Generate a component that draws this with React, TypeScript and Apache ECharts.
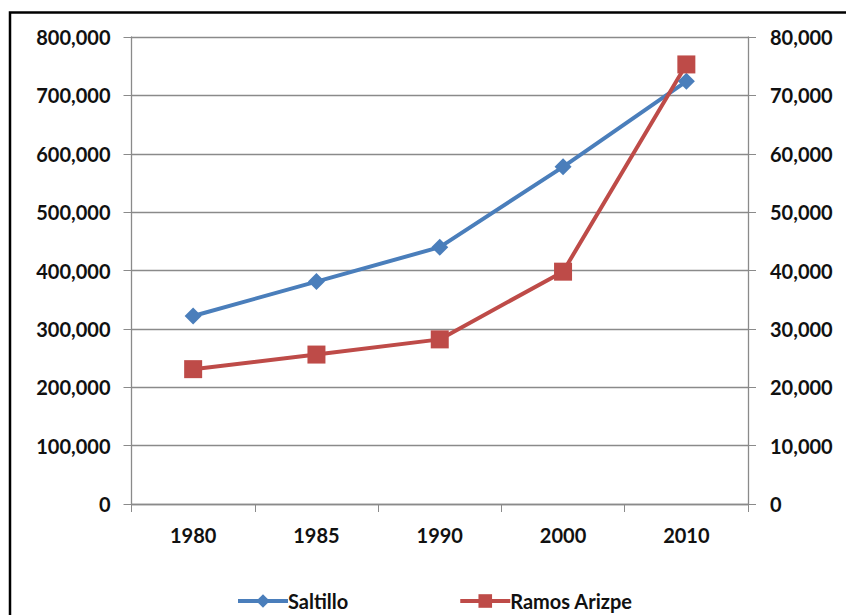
import React, { useEffect, useRef } from "react";
import * as echarts from "echarts";

const years = ["1980", "1985", "1990", "2000", "2010"];
const saltillo = [322000, 381000, 440000, 577600, 724000];
const ramosArizpe = [23100, 25600, 28200, 39800, 75300];
const leftTicks = { min: 0, max: 800000, interval: 100000 };
const rightTicks = { min: 0, max: 80000, interval: 10000 };

const FONT = "Lato";
const TEXT = "#111111";
const GRID = "#8a8a8a";

export default function App() {
  const ref = useRef<HTMLDivElement>(null);
  useEffect(() => {
    if (!ref.current) return;
    const chart = echarts.init(ref.current, undefined, { renderer: "svg" });
    const fmt = (v: number) => v.toLocaleString("en-US");
    const labelBase = { color: TEXT, fontSize: 20, fontFamily: FONT, fontWeight: "bold" as const };
    chart.setOption({
      animation: false,
      backgroundColor: "#ffffff",
      textStyle: { fontFamily: FONT },
      graphic: [
        {
          type: "rect",
          shape: { x: 10, y: 12.5, width: 900, height: 700 },
          style: { fill: "none", stroke: "#000", lineWidth: 2.5 },
          silent: true,
        },
      ],
      grid: { left: 131.5, right: 98, top: 37, bottom: 111 },
      legend: {
        left: 231,
        top: 586,
        itemWidth: 50,
        itemHeight: 17,
        itemGap: 110,
        lineStyle: { width: 4 },
        textStyle: { ...labelBase, fontSize: 20, padding: [0, 0, 0, -5] },
        data: ["Saltillo", "Ramos Arizpe"],
      },
      xAxis: {
        type: "category",
        data: years,
        boundaryGap: true,
        axisLine: { lineStyle: { color: GRID, width: 1.3 } },
        axisTick: { show: true, length: 8, inside: false, lineStyle: { color: GRID } },
        axisLabel: { ...labelBase, margin: 21 },
        splitLine: { show: false },
      },
      yAxis: [
        {
          type: "value",
          min: leftTicks.min,
          max: leftTicks.max,
          interval: leftTicks.interval,
          axisLine: { show: true, lineStyle: { color: GRID, width: 1.3 } },
          axisTick: { show: true, length: 8, lineStyle: { color: GRID } },
          axisLabel: { ...labelBase, margin: 21, formatter: fmt },
          splitLine: { show: true, lineStyle: { color: GRID, width: 1.3 } },
        },
        {
          type: "value",
          position: "right",
          min: rightTicks.min,
          max: rightTicks.max,
          interval: rightTicks.interval,
          axisLine: { show: true, lineStyle: { color: GRID, width: 1.3 } },
          axisTick: { show: true, length: 8, lineStyle: { color: GRID } },
          axisLabel: { ...labelBase, margin: 22, formatter: fmt },
          splitLine: { show: false },
        },
      ],
      series: [
        {
          name: "Saltillo",
          type: "line",
          yAxisIndex: 0,
          data: saltillo,
          symbol: "diamond",
          symbolSize: 17,
          lineStyle: { color: "#4a7ebb", width: 4 },
          itemStyle: { color: "#4a7ebb" },
        },
        {
          name: "Ramos Arizpe",
          type: "line",
          yAxisIndex: 1,
          data: ramosArizpe,
          symbol: "rect",
          symbolSize: 18,
          lineStyle: { color: "#be4b48", width: 4 },
          itemStyle: { color: "#be4b48" },
          z: 3,
        },
      ],
    });
    return () => chart.dispose();
  }, []);
  return (
    <div
      ref={ref}
      style={{ position: "fixed", left: 0, top: 0, width: 846, height: 615, background: "#fff" }}
    />
  );
}
